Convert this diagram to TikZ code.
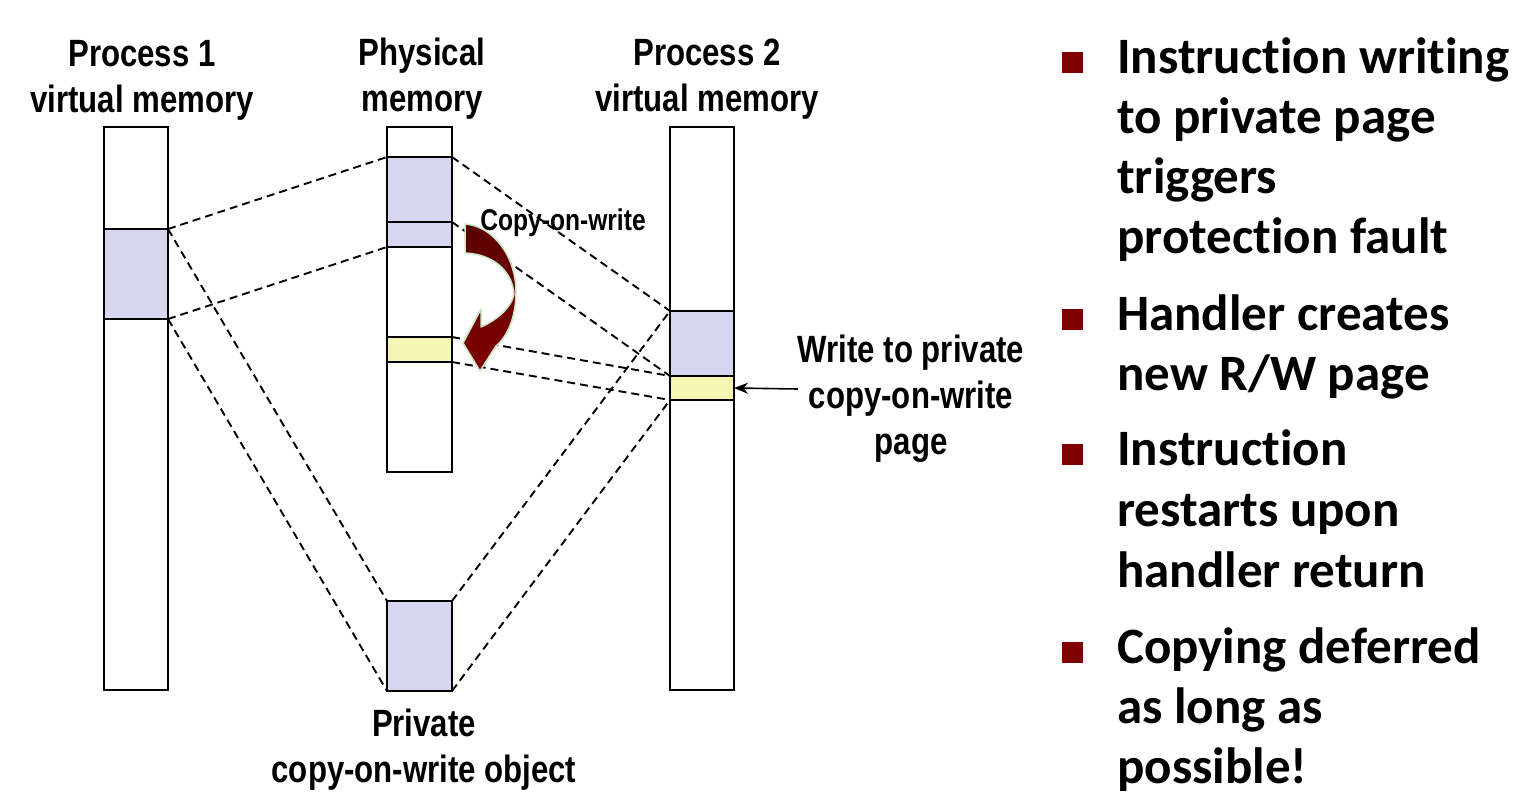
\documentclass[tikz,border=0pt]{standalone}
\usepackage{fontspec}
\setmainfont{Liberation Sans}
\newfontfamily\narrowfont[FakeStretch=0.82]{Liberation Sans}
\newfontfamily\calfont[Ligatures=NoCommon]{Carlito}
\usetikzlibrary{arrows.meta}
\definecolor{memblue}{RGB}{214,214,240}
\definecolor{memyellow}{RGB}{245,245,180}
\definecolor{bulletred}{RGB}{128,0,0}
\definecolor{arrowdark}{RGB}{92,0,0}
\definecolor{arrowred}{RGB}{128,0,0}
\definecolor{arrowedge}{RGB}{200,232,195}
\tikzset{
  memcol/.style={draw=black, line width=2.6pt, inner sep=0pt, outer sep=0pt, fill=white},
  mapline/.style={line width=1.9pt, dash pattern=on 8pt off 5pt},
  title/.style={font={\narrowfont\bfseries\fontsize{38}{46}\selectfont}, align=center, inner sep=0pt},
  smalltitle/.style={font={\narrowfont\bfseries\fontsize{30}{36}\selectfont}, inner sep=0pt},
  bul/.style={font={\calfont\bfseries\fontsize{51}{60}\selectfont}, anchor=base west, inner sep=0pt},
  sq/.style={fill=bulletred, minimum size=21pt, inner sep=0pt, outer sep=0pt},
}
\begin{document}
\begin{tikzpicture}[x=1pt,y=-1pt]
\useasboundingbox[fill=white] (0,0) rectangle (1526,798);

% columns
\node[memcol, minimum width=64pt, minimum height=563pt] (p1) at (136,408.5) {};
\node[memcol, fill=memblue, minimum width=64pt, minimum height=90pt] (p1blue) at (136,274) {};

\node[memcol, minimum width=65pt, minimum height=345pt] (ph) at (419.5,299.5) {};
\node[memcol, fill=memblue, minimum width=65pt, minimum height=65pt] (phA) at (419.5,189.5) {};
\node[memcol, fill=memblue, minimum width=65pt, minimum height=25pt] (phB) at (419.5,234.5) {};
\node[memcol, fill=memyellow, minimum width=65pt, minimum height=25pt] (phY) at (419.5,349.5) {};

\node[memcol, fill=memblue, minimum width=65pt, minimum height=90pt] (priv) at (419.5,646) {};

\node[memcol, minimum width=64pt, minimum height=563pt] (p2) at (702,408.5) {};
\node[memcol, fill=memblue, minimum width=64pt, minimum height=65pt] (p2blue) at (702,343.5) {};
\node[memcol, fill=memyellow, minimum width=64pt, minimum height=24pt] (p2yel) at (702,388) {};

% mapping lines
\draw[mapline] (p1blue.north east) -- (phA.north west);
\draw[mapline] (p1blue.south east) -- (phB.south west);
\draw[mapline] (p1blue.north east) -- (priv.north west);
\draw[mapline] (p1blue.south east) -- (priv.south west);
\draw[mapline] (phA.north east) -- (p2blue.north west);
\draw[mapline] (phA.south east) -- (p2blue.south west);
\draw[mapline] (phY.north east) -- (p2yel.north west);
\draw[mapline] (phY.south east) -- (p2yel.south west);
\draw[mapline] (priv.north east) -- (p2blue.north west);
\draw[mapline] (priv.south east) -- (p2yel.south west);

% copy-on-write curved arrow
\shadedraw[top color=arrowdark, bottom color=arrowred, draw=arrowedge, line width=1.5pt, line join=round]
  (465,224) .. controls (493,226) and (516,256) .. (516,292)
  .. controls (516,318) and (507,337) .. (496,346)
  -- (480,371) -- (463,343) -- (481,309) -- (481,327)
  .. controls (499,319) and (512,306) .. (514,294)
  .. controls (512,270) and (492,254) .. (465,253) -- cycle;

% titles
\node[title] (t1) at (142,80) {Process 1\\virtual memory};
\node[title] (t2) at (422,79) {Physical\\memory};
\node[title] (t3) at (707,79) {Process 2\\virtual memory};
\node[smalltitle] (cow) at (563,223) {Copy-on-write};
\node[title] (privlbl) at (424,750) {Private\\copy-on-write object};
\node[title] (wr) at (911,399) {Write to private\\copy-on-write\\page};
\coordinate (wa) at (798,389);
\draw[line width=1.6pt, -{Stealth[length=14pt,width=11pt]}] (wa) -- (p2yel.east);

% bullets
\node[sq] (s1) at (1072,62) {};
\node[bul] (b11) at (1117,73) {Instruction writing};
\node[bul] (b12) at (1117,133) {to private page};
\node[bul] (b13) at (1117,193) {triggers};
\node[bul] (b14) at (1117,253) {protection fault};
\node[sq] (s2) at (1072,319) {};
\node[bul] (b21) at (1117,330) {Handler creates};
\node[bul] (b22) at (1117,390) {new R/W page};
\node[sq] (s3) at (1072,454) {};
\node[bul] (b31) at (1117,465) {Instruction};
\node[bul] (b32) at (1117,526) {restarts upon};
\node[bul] (b33) at (1117,587) {handler return};
\node[sq] (s4) at (1072,652) {};
\node[bul] (b41) at (1117,663) {Copying deferred};
\node[bul] (b42) at (1117,723) {as long as};
\node[bul] (b43) at (1117,783) {possible!};
\end{tikzpicture}
\end{document}
